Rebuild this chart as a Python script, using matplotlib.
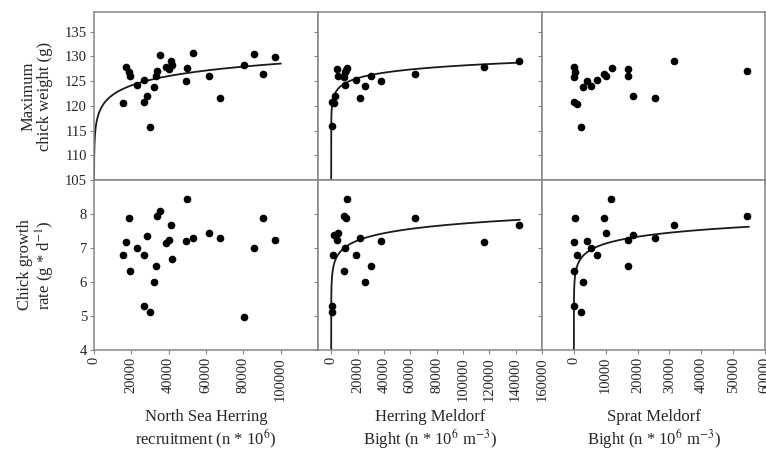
"""
Chick weight / growth vs. prey abundance (3 x 2 panels)
"""
import numpy as np
import matplotlib
matplotlib.use('Agg')
import matplotlib.pyplot as plt

plt.rcParams['font.family'] = ['Liberation Serif', 'DejaVu Serif']
plt.rcParams['mathtext.fontset'] = 'stix'

# ---------- data ----------
# North Sea herring recruitment (n * 10^6), one value per year
nsh_recruit = [15700, 16900, 18500, 19500, 23200, 26600, 26800, 28200, 30000, 32300,
               33300, 33900, 35400, 38600, 40100, 41200, 41700, 49100, 49800, 53200,
               61800, 67300, 80500, 85900, 90600, 97100]
nsh_weight = [120.5, 127.8, 126.9, 126.0, 124.2, 120.7, 125.2, 122.0, 115.8, 123.9,
              126.1, 127.0, 130.3, 127.9, 127.5, 129.1, 128.2, 125.0, 127.7, 130.8,
              126.1, 121.5, 128.3, 130.6, 126.5, 129.8]
nsh_growth = [6.78, 7.17, 7.87, 6.31, 6.99, 5.28, 6.78, 7.36, 5.11, 6.01,
              6.47, 7.93, 8.10, 7.15, 7.24, 7.69, 6.69, 7.22, 8.45, 7.28,
              7.44, 7.29, 4.96, 7.00, 7.89, 7.24]

# Herring Meldorf Bight (n * 10^6 m^-3)
her_x_weight = [600, 600, 2200, 2700, 4200, 5400, 10000, 10300, 10300, 11300,
                12000, 18600, 21900, 25700, 30500, 38000, 63900, 116200, 142800]
her_weight = [115.9, 120.8, 120.5, 121.9, 127.5, 126.0, 125.9, 126.9, 124.2, 127.3,
              127.7, 125.2, 121.6, 124.0, 126.1, 125.0, 126.4, 127.8, 129.1]
her_x_growth = [600, 800, 1600, 2200, 4200, 5200, 9800, 9800, 10500, 11500,
                12300, 18600, 21900, 25700, 30500, 38000, 63900, 116200, 142800]
her_growth = [5.29, 5.11, 6.79, 7.38, 7.25, 7.44, 7.95, 6.31, 6.99, 7.87,
              8.45, 6.79, 7.29, 6.01, 6.47, 7.22, 7.89, 7.17, 7.69]

# Sprat Meldorf Bight (n * 10^6 m^-3)
spr_x_weight = [0, 500, 0, 100, 950, 2200, 2750, 4200, 5400, 7400,
                9500, 10200, 12000, 17100, 17100, 18700, 25600, 31300, 54500]
spr_weight = [127.8, 126.9, 125.9, 120.7, 120.4, 115.8, 123.9, 125.0, 124.1, 125.2,
              126.5, 126.0, 127.7, 127.5, 126.1, 122.0, 121.5, 129.1, 127.0]
spr_x_growth = [11800, 400, 9500, 10100, 0, 4200, 17100, 18600, 25600, 31300,
                54500, 5400, 850, 7400, 0, 2750, 17100, 100, 2200]
spr_growth = [8.45, 7.87, 7.89, 7.44, 7.17, 7.22, 7.25, 7.37, 7.29, 7.69,
              7.94, 6.99, 6.79, 6.79, 6.31, 6.01, 6.47, 5.29, 5.11]

# logarithmic fits y = a + b*ln(x): (a, b, x_start, x_end); None = no fit shown
fit_nsh_weight = (96.9, 2.75, 19, 100000)
fit_her_weight = (109.76, 1.6, 0.05, 143000)
fit_her_growth = (4.15, 0.31, 0.62, 143000)
fit_spr_growth = (4.46, 0.29, 0.21, 54900)

weight_ticks = [105, 110, 115, 120, 125, 130, 135]
growth_ticks = [4, 5, 6, 7, 8]
nsh_ticks = [0, 20000, 40000, 60000, 80000, 100000]
her_ticks = [0, 20000, 40000, 60000, 80000, 100000, 120000, 140000, 160000]
spr_ticks = [0, 10000, 20000, 30000, 40000, 50000, 60000]

# ---------- figure ----------
W, H = 766, 450
fig = plt.figure(figsize=(W / 100, H / 100), dpi=100)

spine_col = '#858585'
text_col = '#262626'

col_left = [94, 318, 542]
col_width = [224, 224, 223]
row_top = [12, 180]
row_bot = [180, 350]

panels = [
    # row, col, x, y, fit, xlim, xticks
    (0, 0, nsh_recruit, nsh_weight, fit_nsh_weight, (0, 120000), nsh_ticks),
    (0, 1, her_x_weight, her_weight, fit_her_weight, (-10000, 160000), her_ticks),
    (0, 2, spr_x_weight, spr_weight, None, (-10000, 60000), spr_ticks),
    (1, 0, nsh_recruit, nsh_growth, None, (0, 120000), nsh_ticks),
    (1, 1, her_x_growth, her_growth, fit_her_growth, (-10000, 160000), her_ticks),
    (1, 2, spr_x_growth, spr_growth, fit_spr_growth, (-10000, 60000), spr_ticks),
]

for row, col, xs, ys, fit, xlim, xticks in panels:
    l = col_left[col] / W
    b = 1 - row_bot[row] / H
    w = col_width[col] / W
    h = (row_bot[row] - row_top[row]) / H
    ax = fig.add_axes([l, b, w, h])

    ax.plot(xs, ys, 'o', color='black', ms=4.5, zorder=3)
    if fit is not None:
        a, k, x0, x1 = fit
        xx = np.geomspace(x0, x1, 400)
        ax.plot(xx, a + k * np.log(xx), color='#1a1a1a', lw=1.3, zorder=2)

    ax.set_xlim(*xlim)
    ax.set_xticks(xticks)
    if row == 0:
        ax.set_ylim(105, 139)
        ax.set_yticks(weight_ticks)
    else:
        ax.set_ylim(4, 9)
        ax.set_yticks(growth_ticks)

    for s in ax.spines.values():
        s.set_color(spine_col)
        s.set_linewidth(1.1)

    ax.tick_params(direction='out', length=3, width=0.8, color=spine_col,
                   labelcolor=text_col, labelsize=10.5, pad=2)
    ax.tick_params(axis='x', labelrotation=90)
    if col != 0:
        ax.tick_params(axis='y', labelleft=False)
    if row == 0:
        ax.tick_params(axis='x', labelbottom=False)

# axis titles
fig.text(37 / W, 1 - 96 / H, 'Maximum\nchick weight (g)', rotation=90,
         ha='center', va='center', multialignment='center', fontsize=12,
         color=text_col, linespacing=1.0)
fig.text(37 / W, 1 - 265 / H, 'Chick growth\nrate (g * d$^{-1}$)', rotation=90,
         ha='center', va='center', multialignment='center', fontsize=12,
         color=text_col, linespacing=1.0)

xlabels = ['North Sea Herring\nrecruitment (n * 10$^6$)',
           'Herring Meldorf\nBight (n * 10$^6$ m$^{-3}$)',
           'Sprat Meldorf\nBight (n * 10$^6$ m$^{-3}$)']
for c, txt in enumerate(xlabels):
    cx = (col_left[c] + col_width[c] / 2) / W
    fig.text(cx, 1 - 430 / H, txt, ha='center', va='center',
             multialignment='center', fontsize=12, color=text_col,
             linespacing=1.15)

fig.savefig('out.png', dpi=100, facecolor='white')
